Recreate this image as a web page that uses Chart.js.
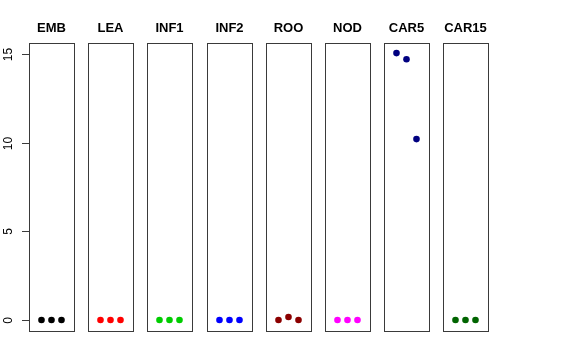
<!DOCTYPE html>
<html>
<head>
<meta charset="utf-8">
<script src="https://cdn.jsdelivr.net/npm/chart.js@4/dist/chart.umd.min.js"></script>
<style>
  html, body { margin: 0; padding: 0; background: #fff; }
  #wrap { position: relative; width: 576px; height: 360px; overflow: hidden; }
  #wrap canvas { position: absolute; top: 0; }
</style>
</head>
<body>
<div id="wrap"></div>
<script>
// panel names and the three values in each panel
var categories = ['EMB', 'LEA', 'INF1', 'INF2', 'ROO', 'NOD', 'CAR5', 'CAR15'];
var positions = [1, 2, 3];
var emb   = [0, 0, 0];
var lea   = [0, 0, 0];
var inf1  = [0, 0, 0];
var inf2  = [0, 0, 0];
var roo   = [0, 0.17, 0];
var nod   = [0, 0, 0];
var car5  = [15.05, 14.7, 10.2];
var car15 = [0, 0, 0];
var seriesValues = [emb, lea, inf1, inf2, roo, nod, car5, car15];
var colors = ['#000000', '#FF0000', '#00CD00', '#0000FF', '#8B0000', '#FF00FF', '#000080', '#006400'];
var yTicks = [0, 5, 10, 15];

var boxLefts = [29, 88, 147, 207, 266, 325, 384, 443];
var boxWidth = 45;
var FONT = '"Liberation Sans", Arial, Helvetica, sans-serif';

// draws the panel frame, and on the first panel the R-style y axis
var framePlugin = {
    id: 'frame',
    afterDraw: function(chart, args, opts) {
        var ctx = chart.ctx, a = chart.chartArea;
        ctx.save();
        ctx.strokeStyle = '#3a3a3a';
        ctx.lineWidth = 1;
        ctx.strokeRect(Math.round(a.left) + 0.5, Math.round(a.top) + 0.5,
                       Math.round(a.right - a.left), Math.round(a.bottom - a.top));
        if (opts.yAxis) {
            var ys = chart.scales.y;
            ctx.fillStyle = '#000';
            ctx.font = '12px ' + FONT;
            ctx.textAlign = 'center';
            ctx.textBaseline = 'middle';
            yTicks.forEach(function(t) {
                var py = Math.round(ys.getPixelForValue(t)) + 0.5;
                ctx.beginPath();
                ctx.moveTo(a.left - 7, py);
                ctx.lineTo(a.left, py);
                ctx.stroke();
                ctx.save();
                ctx.translate(a.left - 20, py);
                ctx.rotate(-Math.PI / 2);
                ctx.fillText(String(t), 0, 0);
                ctx.restore();
            });
        }
        ctx.restore();
    }
};

var wrap = document.getElementById('wrap');
categories.forEach(function(name, i) {
    var padL = i === 0 ? boxLefts[0] : 8;
    var padR = 8;
    var canvas = document.createElement('canvas');
    canvas.width = boxWidth + padL + padR;
    canvas.height = 360;
    canvas.style.width = canvas.width + 'px';
    canvas.style.height = '360px';
    canvas.style.left = (boxLefts[i] - padL) + 'px';
    wrap.appendChild(canvas);

    new Chart(canvas.getContext('2d'), {
        type: 'scatter',
        data: {
            datasets: [{
                data: positions.map(function(x, k) { return { x: x, y: seriesValues[i][k] }; }),
                backgroundColor: colors[i],
                borderColor: colors[i],
                pointRadius: 3.3,
                pointBorderWidth: 0
            }]
        },
        options: {
            responsive: false,
            animation: false,
            layout: { padding: { left: padL, right: padR, top: 0, bottom: 29 } },
            scales: {
                x: { type: 'linear', min: -0.25, max: 4.25, display: false },
                y: { type: 'linear', min: -0.62, max: 15.62, display: false }
            },
            plugins: {
                legend: { display: false },
                tooltip: { enabled: false },
                title: {
                    display: true,
                    text: name,
                    color: '#000',
                    font: { family: FONT, size: 13, weight: 'bold' },
                    padding: { top: 21, bottom: 6.4 }
                },
                frame: { yAxis: i === 0 }
            }
        },
        plugins: [framePlugin]
    });
});
</script>
</body>
</html>
